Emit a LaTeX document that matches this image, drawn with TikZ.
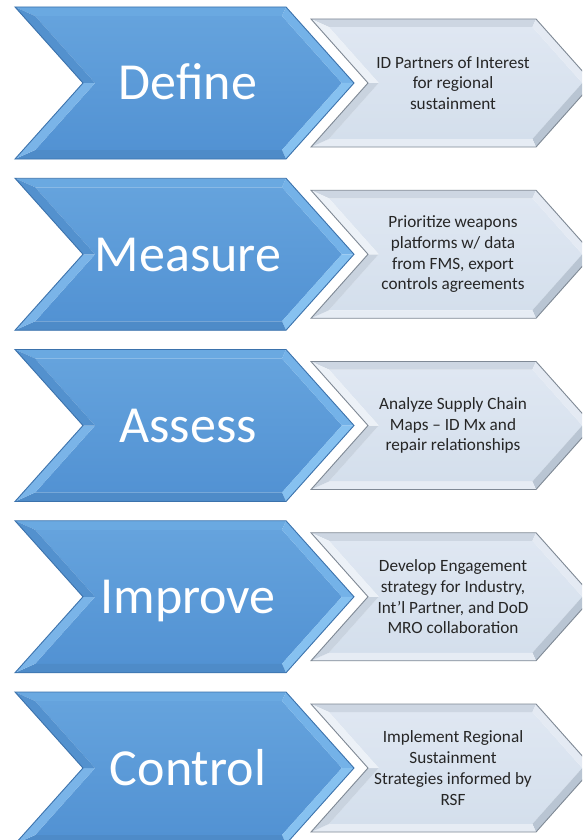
\documentclass[tikz,border=0pt]{standalone}
\usepackage{fontspec}
\setmainfont{Carlito}
\definecolor{bluetop}{HTML}{6AA9E1}
\definecolor{bluetr}{HTML}{74B2E8}
\definecolor{bluebr}{HTML}{86C1F0}
\definecolor{bluebot}{HTML}{4E8BC8}
\definecolor{bluebl}{HTML}{7AB4E8}
\definecolor{bluetl}{HTML}{5391CE}
\definecolor{blueA}{HTML}{65A3DD}
\definecolor{blueB}{HTML}{5292D3}
\definecolor{blueline}{HTML}{3B72AC}
\definecolor{graytop}{HTML}{CDD6E2}
\definecolor{graytr}{HTML}{E4EAF3}
\definecolor{graybr}{HTML}{B9C5D3}
\definecolor{graybot}{HTML}{E6ECF4}
\definecolor{graybl}{HTML}{C9D3DF}
\definecolor{graytl}{HTML}{ECF1F7}
\definecolor{grayA}{HTML}{DFE7F2}
\definecolor{grayB}{HTML}{D4DFEC}
\definecolor{grayline}{HTML}{7F8995}
\definecolor{txtdark}{HTML}{262626}
\newcommand\bevchev[7]{%
  \pgfmathsetmacro\cL{#1}\pgfmathsetmacro\cT{#2}%
  \pgfmathsetmacro\cR{#1+#3}\pgfmathsetmacro\cB{#2+#4}%
  \pgfmathsetmacro\cM{#2+#4/2}\pgfmathsetmacro\cd{#5}%
  \pgfmathsetmacro\ch{#4/2}%
  \pgfmathsetmacro\cs{#6*sqrt(\cd*\cd+\ch*\ch)/\ch}%
  \pgfmathsetmacro\cq{\cd*#6/\ch}%
  \pgfmathsetmacro\ciT{\cT+#6}\pgfmathsetmacro\ciB{\cB-#6}%
  \pgfmathsetmacro\cAx{\cL+\cq+\cs}\pgfmathsetmacro\cFx{\cL+\cd+\cs}%
  \pgfmathsetmacro\cBx{\cR+\cq-\cs}\pgfmathsetmacro\cCx{\cR+\cd-\cs}%
  \pgfmathsetmacro\cOCx{\cR+\cd}\pgfmathsetmacro\cOFx{\cL+\cd}%
  \ifx#7b\relax
    \draw[white,line width=3.5pt,line join=round] (\cL,\cT)--(\cR,\cT)--(\cOCx,\cM)--(\cR,\cB)--(\cL,\cB)--(\cOFx,\cM)--cycle;
  \fi
  \shade[top color=#7A,bottom color=#7B] (\cAx,\ciT)--(\cBx,\ciT)--(\cCx,\cM)--(\cBx,\ciB)--(\cAx,\ciB)--(\cFx,\cM)--cycle;
  \fill[#7top] (\cL,\cT)--(\cR,\cT)--(\cBx,\ciT)--(\cAx,\ciT)--cycle;
  \fill[#7tr] (\cR,\cT)--(\cOCx,\cM)--(\cCx,\cM)--(\cBx,\ciT)--cycle;
  \fill[#7br] (\cOCx,\cM)--(\cR,\cB)--(\cBx,\ciB)--(\cCx,\cM)--cycle;
  \fill[#7bot] (\cR,\cB)--(\cL,\cB)--(\cAx,\ciB)--(\cBx,\ciB)--cycle;
  \fill[#7bl] (\cL,\cB)--(\cOFx,\cM)--(\cFx,\cM)--(\cAx,\ciB)--cycle;
  \fill[#7tl] (\cOFx,\cM)--(\cL,\cT)--(\cAx,\ciT)--(\cFx,\cM)--cycle;
  \draw[#7line,line width=0.9pt,line join=miter] (\cL,\cT)--(\cR,\cT)--(\cOCx,\cM)--(\cR,\cB)--(\cL,\cB)--(\cOFx,\cM)--cycle;
}
\newcommand\chevrow[4]{%
  \pgfmathsetmacro\rT{7+171.25*#1}%
  \pgfmathsetmacro\gT{\rT+12}%
  \bevchev{311}{\gT}{225}{128}{57}{8}{gray}%
  \bevchev{15}{\rT}{271}{152}{68}{9}{blue}%
  \pgfmathsetmacro\rBase{\rT+93}\pgfmathsetmacro\rMid{\rT+76}%
  \node[bluelbl] (#2) at (188,\rBase) {#3};
  \node[graylbl] (#2txt) at (453,\rMid) {#4};
}
\begin{document}
\begin{tikzpicture}[x=1pt,y=-1pt,
  bluelbl/.style={anchor=base,text=white,font=\fontsize{52}{60}\selectfont,inner sep=0pt},
  graylbl/.style={anchor=center,text=txtdark,align=center,font=\fontsize{17.2}{20.8}\selectfont,inner sep=0pt}]
\useasboundingbox (0,0) rectangle (582,840);
\clip (0,0) rectangle (582,840);
\fill[white] (0,0) rectangle (582,840);
\chevrow{0}{define}{Define}{ID Partners of Interest\\for regional\\sustainment}
\chevrow{1}{measure}{Measure}{Prioritize weapons\\platforms w/ data\\from FMS, export\\controls agreements}
\chevrow{2}{assess}{Assess}{Analyze Supply Chain\\Maps -- ID Mx and\\repair relationships}
\chevrow{3}{improve}{Improve}{Develop Engagement\\strategy for Industry,\\Int’l Partner, and DoD\\MRO collaboration}
\chevrow{4}{control}{Control}{Implement Regional\\Sustainment\\Strategies informed by\\RSF}
\end{tikzpicture}
\end{document}
